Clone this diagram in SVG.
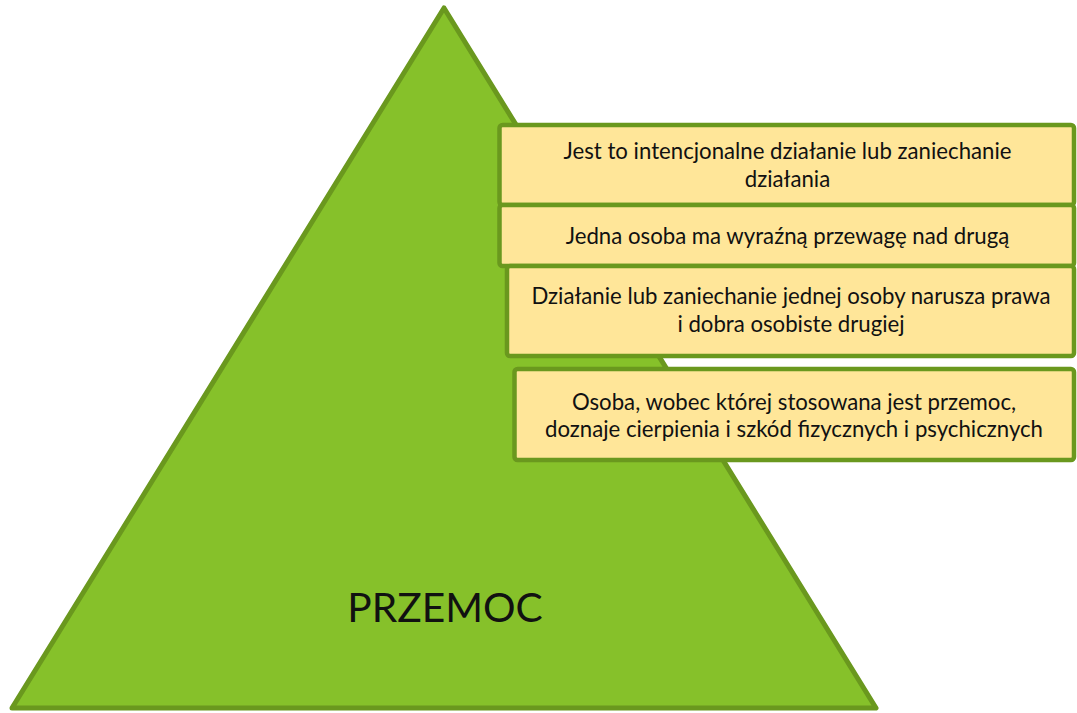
<svg xmlns="http://www.w3.org/2000/svg" width="1077" height="713" viewBox="0 0 1077 713">
<style>
.tri{fill:#86C12A;stroke:#6A981E;stroke-width:5;stroke-linejoin:round}
.box{fill:#FFE699;stroke:#6A981E;stroke-width:4.5}
.t{font-family:Lato,"Open Sans",sans-serif;font-size:22.2px;fill:#111;text-anchor:middle}
.big{font-family:Lato,"Open Sans",sans-serif;font-size:40.7px;fill:#111;text-anchor:middle}
</style>
<rect width="1077" height="713" fill="#fff"/>
<g id="pyramid">
<polygon class="tri" points="444,8 876,708 12,708"/>
<text class="big" x="445" y="622">PRZEMOC</text>
</g>
<g id="box1">
<rect class="box" x="499.5" y="125" width="574.5" height="80" rx="3"/>
<text class="t" x="787.5" y="159">Jest to intencjonalne działanie lub zaniechanie</text>
<text class="t" x="787.5" y="187">działania</text>
</g>
<g id="box2">
<rect class="box" x="499.5" y="205" width="574.5" height="61" rx="3"/>
<text class="t" x="787.5" y="244">Jedna osoba ma wyraźną przewagę nad drugą</text>
</g>
<g id="box3">
<rect class="box" x="507" y="266" width="567" height="90" rx="3"/>
<text class="t" x="791" y="304">Działanie lub zaniechanie jednej osoby narusza prawa</text>
<text class="t" x="791" y="332">i dobra osobiste drugiej</text>
</g>
<g id="box4">
<rect class="box" x="514.5" y="369" width="559.5" height="91" rx="3"/>
<text class="t" x="794" y="410">Osoba, wobec której stosowana jest przemoc,</text>
<text class="t" x="794" y="437">doznaje cierpienia i szkód fizycznych i psychicznych</text>
</g>
<g id="connectors"></g>
</svg>
